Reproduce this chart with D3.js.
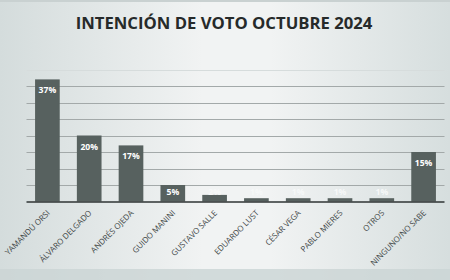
<!DOCTYPE html>
<meta charset="utf-8">
<style>
body { margin: 0; }
text { font-family: "Open Sans", sans-serif; }
</style>
<svg width="450" height="280"></svg>
<script src="https://d3js.org/d3.v7.min.js"></script>
<script>

var categories = ["YAMANDÚ ORSI", "ÁLVARO DELGADO", "ANDRÉS OJEDA", "GUIDO MANINI", "GUSTAVO SALLE",
                  "EDUARDO LUST", "CÉSAR VEGA", "PABLO MIERES", "OTROS", "NINGUNO/NO SABE"];
var values = [37, 20, 17, 5, 2, 1, 1, 1, 1, 15];
var labels = ["37%", "20%", "17%", "5%", "2%", "1%", "1%", "1%", "1%", "15%"];
var yTicks = [0, 5, 10, 15, 20, 25, 30, 35, 40];

var bar_colour = "#57615f";

var svg = d3.select("svg"),
    width = +svg.attr("width"),
    height = +svg.attr("height");

// background gradient, lighter in the middle
var defs = svg.append("defs");
var grad = defs.append("linearGradient").attr("id", "bg").attr("x1", 0).attr("x2", 1).attr("y1", 0).attr("y2", 0);
grad.append("stop").attr("offset", "0%").attr("stop-color", "#d4dcdc");
grad.append("stop").attr("offset", "45%").attr("stop-color", "#f1f3f3");
grad.append("stop").attr("offset", "60%").attr("stop-color", "#f1f3f3");
grad.append("stop").attr("offset", "100%").attr("stop-color", "#d6dede");

svg.append("rect").attr("width", width).attr("height", height).style("fill", "url(#bg)");
svg.append("rect").attr("width", width).attr("height", 2).style("fill", "#c9d1d1");
svg.append("rect").attr("y", 269).attr("width", width).attr("height", 11).style("fill", "#cbd4d4").style("opacity", 0.8);

var plot_left = 26.5, plot_right = 444.5, plot_top = 69.5, plot_base = 201.5;

var x = d3.scaleBand().domain(categories).range([plot_left, plot_right]).paddingInner(0.41).paddingOuter(0.205);
var y = d3.scaleLinear().domain([0, 40]).range([plot_base, plot_top]);

// gridlines
svg.append("g")
   .selectAll("line")
   .data(yTicks.slice(1))
   .enter().append("line")
   .attr("x1", plot_left).attr("x2", plot_right)
   .attr("y1", function(d) { return Math.round(y(d)) + 0.5; })
   .attr("y2", function(d) { return Math.round(y(d)) + 0.5; })
   .style("stroke", function(d) { return d == 40 ? "#d6dcdc" : "#a3a9a9"; })
   .style("stroke-width", 1);

// bars
svg.append("g")
   .selectAll("rect")
   .data(values)
   .enter().append("rect")
   .attr("x", function(d, i) { return x(categories[i]); })
   .attr("y", function(d) { return y(d); })
   .attr("width", x.bandwidth())
   .attr("height", function(d) { return plot_base - y(d); })
   .style("fill", bar_colour);

// baseline
svg.append("line")
   .attr("x1", plot_left).attr("x2", plot_right)
   .attr("y1", plot_base + 0.5).attr("y2", plot_base + 0.5)
   .style("stroke", "#2f3535")
   .style("stroke-width", 1.5);

// value labels (short bars push the label above the bar, where white nearly vanishes)
svg.append("g")
   .selectAll("text")
   .data(values)
   .enter().append("text")
   .attr("x", function(d, i) { return x(categories[i]) + x.bandwidth() / 2; })
   .attr("y", function(d) { return Math.min(y(d) + 14, plot_base - 7); })
   .attr("text-anchor", "middle")
   .style("font-size", "8.6px")
   .style("font-weight", "bold")
   .style("fill", function(d) { return (plot_base - y(d)) > 14 ? "#ffffff" : "#f6f8f8"; })
   .text(function(d, i) { return labels[i]; });

// category labels
svg.append("g")
   .selectAll("text")
   .data(categories)
   .enter().append("text")
   .attr("transform", function(d) {
       return "translate(" + (x(d) + x.bandwidth() / 2 + 3) + "," + (plot_base + 12) + ") rotate(-45)";
   })
   .attr("text-anchor", "end")
   .style("font-size", "8px")
   .style("fill", "#424848")
   .text(function(d) { return d; });

// title
svg.append("text")
   .attr("x", 224)
   .attr("y", 28.5)
   .attr("text-anchor", "middle")
   .style("font-size", "16.7px")
   .style("font-weight", "bold")
   .style("fill", "#262a2a")
   .text("INTENCIÓN DE VOTO OCTUBRE 2024");

</script>
